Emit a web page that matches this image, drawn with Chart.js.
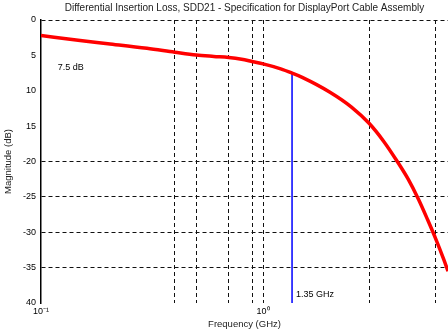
<!DOCTYPE html>
<html>
<head>
<meta charset="utf-8">
<script src="https://cdn.jsdelivr.net/npm/chart.js@4.4.1/dist/chart.umd.min.js"></script>
<style>
  html, body { margin: 0; padding: 0; background: #fff; }
  #wrap { width: 448px; height: 332px; }
</style>
</head>
<body>
<div id="wrap"><canvas id="chart" width="448" height="332"></canvas></div>
<script>
// insertion loss curve
const freqs = [0.1, 0.15, 0.2, 0.3, 0.4, 0.5, 0.6, 0.7, 0.8, 0.9, 1.0, 1.2, 1.35, 1.5, 2.0, 2.5, 3.0, 3.5, 4.0, 4.5, 5.0, 5.5, 6.0, 6.5, 6.8];
const lossDb = [-2.2, -2.9, -3.35, -4.0, -4.55, -4.95, -5.15, -5.3, -5.55, -5.9, -6.2, -6.9, -7.5, -8.1, -10.2, -12.3, -14.6, -17.2, -19.9, -22.5, -25.3, -28.2, -31.0, -33.8, -35.5];

// marker at the spec frequency
const markerFreq = [1.35, 1.35];
const markerDb = [-7.5, -40];

const xGrid = [0.1, 0.4, 0.5, 0.7, 0.9, 1, 3, 6];
const xLabels = { 0.1: "10\u207B\u00B9", 1: "10\u2070" };
const yTicks = [0, -5, -10, -15, -20, -25, -30, -35, -40];
const yLabels = ["0", "5", "10", "15", "-20", "-25", "-30", "-35", "40"];
const yGridOn = [0, -20, -25, -30, -35];

const font = "Arial, 'Liberation Sans', sans-serif";

const notes = {
  id: "notes",
  afterDatasetsDraw(chart) {
    const { ctx, scales: { x, y } } = chart;
    ctx.save();
    ctx.fillStyle = "#000";
    ctx.font = "9px " + font;
    ctx.textBaseline = "middle";
    ctx.textAlign = "left";
    ctx.fillText("7.5 dB", x.getPixelForValue(0.119), y.getPixelForValue(-6.7));
    ctx.fillText("1.35 GHz", x.getPixelForValue(1.35) + 4, y.getPixelForValue(-38.8));
    ctx.restore();
  }
};

new Chart(document.getElementById("chart"), {
  type: "line",
  data: {
    datasets: [
      {
        data: freqs.map((f, i) => ({ x: f, y: lossDb[i] })),
        borderColor: "#ff0000",
        borderWidth: 3.5,
        pointRadius: 0,
        tension: 0.4,
        cubicInterpolationMode: "monotone"
      },
      {
        data: markerFreq.map((f, i) => ({ x: f, y: markerDb[i] })),
        borderColor: "#0000ff",
        borderWidth: 1.5,
        pointRadius: 0
      }
    ]
  },
  options: {
    responsive: false,
    animation: false,
    layout: { padding: 0 },
    plugins: {
      legend: { display: false },
      tooltip: { enabled: false },
      title: {
        display: true,
        fullSize: false,
        text: "Differential Insertion Loss, SDD21 - Specification for DisplayPort Cable Assembly",
        color: "#222",
        font: { family: font, size: 10, weight: "normal" },
        padding: { top: 2, bottom: 6 }
      }
    },
    scales: {
      x: {
        type: "logarithmic",
        min: 0.1,
        max: 6.8,
        afterBuildTicks(scale) {
          scale.ticks = xGrid.map(v => ({ value: v }));
        },
        afterFit(scale) { scale.height = 29; },
        border: { display: false, dash: [4, 3] },
        grid: {
          color: ctx => ctx.tick && ctx.tick.value === 0.1 ? "rgba(0,0,0,0)" : "#111",
          lineWidth: 1,
          drawTicks: false
        },
        ticks: {
          autoSkip: false,
          maxRotation: 0,
          padding: 3,
          color: "#000",
          font: { family: font, size: 9 },
          callback: v => xLabels[v] || ""
        },
        title: {
          display: true,
          text: "Frequency (GHz)",
          color: "#222",
          font: { family: font, size: 9.5 },
          padding: { top: 0, bottom: 2 }
        }
      },
      y: {
        min: -40,
        max: 0,
        afterBuildTicks(scale) {
          scale.ticks = yTicks.map(v => ({ value: v }));
        },
        afterFit(scale) { scale.width = 41; },
        border: { display: true, color: "#000", width: 1.5, dash: [4, 3] },
        grid: {
          color: ctx => ctx.tick && yGridOn.includes(ctx.tick.value) ? "#111" : "rgba(0,0,0,0)",
          lineWidth: 1,
          drawTicks: false
        },
        ticks: {
          padding: 5,
          color: "#000",
          font: { family: font, size: 9 },
          callback: (v) => yLabels[yTicks.indexOf(v)] ?? ""
        },
        title: {
          display: true,
          text: "Magnitude (dB)",
          color: "#222",
          font: { family: font, size: 9.5 },
          padding: { top: 3, bottom: 0 }
        }
      }
    }
  },
  plugins: [notes]
});
</script>
</body>
</html>
